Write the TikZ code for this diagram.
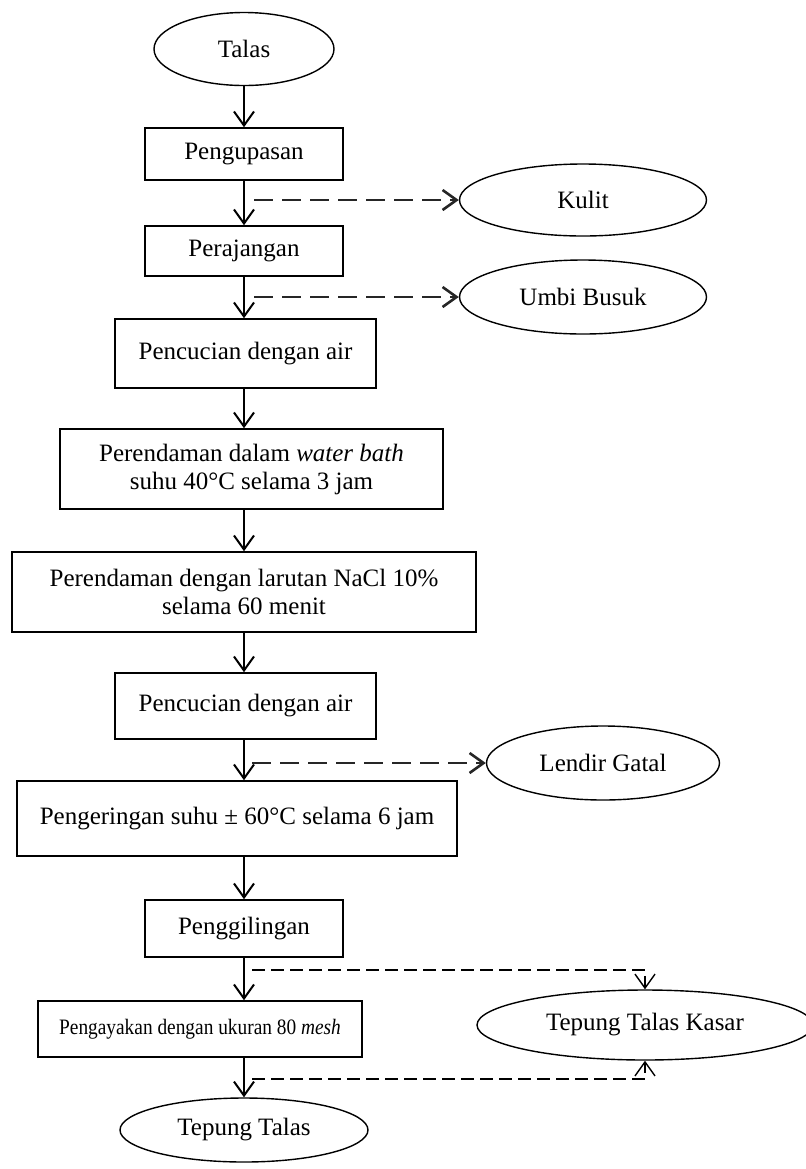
\documentclass[tikz,border=0pt]{standalone}
\usepackage{fontspec}
\setmainfont{Liberation Serif}
\usepackage{graphicx}
\usepackage{tikz}
\usetikzlibrary{arrows.meta,positioning,calc,shapes.geometric}

\begin{document}
\begin{tikzpicture}[
    every node/.style={font=\fontsize{12.5}{14}\selectfont},
    proses/.style={rectangle, draw, line width=0.8pt, align=center, inner sep=0pt},
    bahan/.style={ellipse, draw, line width=0.7pt, align=center, inner sep=0pt},
    arrow/.style={-{Straight Barb[length=7pt,width=10pt]}, line width=1pt},
    buang/.style={-{Straight Barb[length=7pt,width=10pt]}, line width=1.3pt,
        dash pattern=on 9.5pt off 4.5pt, black!85},
    sisa/.style={-{Straight Barb[length=7pt,width=10pt]}, line width=0.7pt,
        dash pattern=on 6.5pt off 3pt},
    x=0.5pt, y=-0.5pt,
    ]
    \useasboundingbox (0,0) rectangle (806,1169);
    % Main column
    \node[bahan, minimum width=90pt, minimum height=36.5pt]   (talas)   at (244,49)    {Talas};
    \node[proses, minimum width=99pt, minimum height=26pt]    (kupas)   at (244,154)   {Pengupasan};
    \node[proses, minimum width=99pt, minimum height=25pt]    (rajang)  at (244,251)   {Perajangan};
    \node[proses, minimum width=130.5pt, minimum height=34.5pt] (cuci1) at (245.5,353.5) {Pencucian dengan air};
    \node[proses, minimum width=191.5pt, minimum height=40pt] (rendam1) at (251.5,469) {Perendaman dalam \textit{water bath}\\suhu 40°C selama 3 jam};
    \node[proses, minimum width=232pt, minimum height=40pt]   (rendam2) at (244,592)   {Perendaman dengan larutan NaCl 10\%\\selama 60 menit};
    \node[proses, minimum width=130.5pt, minimum height=33pt] (cuci2)   at (245.5,706) {Pencucian dengan air};
    \node[proses, minimum width=220pt, minimum height=37.5pt] (kering)  at (237,818.5) {Pengeringan suhu ± 60°C selama 6 jam};
    \node[proses, minimum width=99pt, minimum height=28.5pt]  (giling)  at (244,928.5) {Penggilingan};
    \node[proses, minimum width=162pt, minimum height=28pt, font=\fontsize{11}{12}\selectfont]
                                                              (ayak)    at (200,1029)  {\scalebox{0.88}[1]{Pengayakan dengan ukuran 80 \textit{mesh}}};
    \node[bahan, minimum width=124pt, minimum height=32pt]    (tepung)  at (244,1130)  {Tepung Talas};
    % Side outputs
    \node[bahan, minimum width=123.5pt, minimum height=36pt]  (kulit)   at (583,200)   {Kulit};
    \node[bahan, minimum width=123.5pt, minimum height=37pt]  (busuk)   at (583,297)   {Umbi Busuk};
    \node[bahan, minimum width=116.5pt, minimum height=37pt]  (lendir)  at (603,763)   {Lendir Gatal};
    \node[bahan, minimum width=168pt, minimum height=35pt]    (kasar)   at (645,1025)  {Tepung Talas Kasar};
    % Arrows
    \draw[arrow] (talas) -- (kupas);
    \draw[arrow] (kupas) -- (rajang);
    \draw[arrow] (rajang.south) -- (rajang.south |- cuci1.north);
    \draw[arrow] (rajang.south |- cuci1.south) -- (rajang.south |- rendam1.north);
    \draw[arrow] (rendam2.north |- rendam1.south) -- (rendam2.north);
    \draw[arrow] (rendam2.south) -- (rendam2.south |- cuci2.north);
    \draw[arrow] (rendam2.south |- cuci2.south) -- (rendam2.south |- kering.north);
    \draw[arrow] (kering.south -| giling.north) -- (giling.north);
    \draw[arrow] (giling.south) -- (giling.south |- ayak.north);
    \draw[arrow] (ayak.south -| tepung.north) -- (tepung.north);
    % Waste
    \draw[buang] ($(kulit.west -| kupas.south)+(10,0)$) -- (kulit.west);
    \draw[buang] ($(busuk.west -| rajang.south)+(10,0)$) -- (busuk.west);
    \draw[buang] ($(lendir.west -| rendam2.south)+(8,0)$) -- (lendir.west);
    % Sieve fractions
    \coordinate (k1) at ($(giling.south)+(8,12)$);
    \coordinate (k2) at ($(ayak.south -| tepung.north)+(8,21)$);
    \draw[sisa] (k1) -| (kasar.north);
    \draw[sisa] (k2) -| (kasar.south);
\end{tikzpicture}
\end{document}
